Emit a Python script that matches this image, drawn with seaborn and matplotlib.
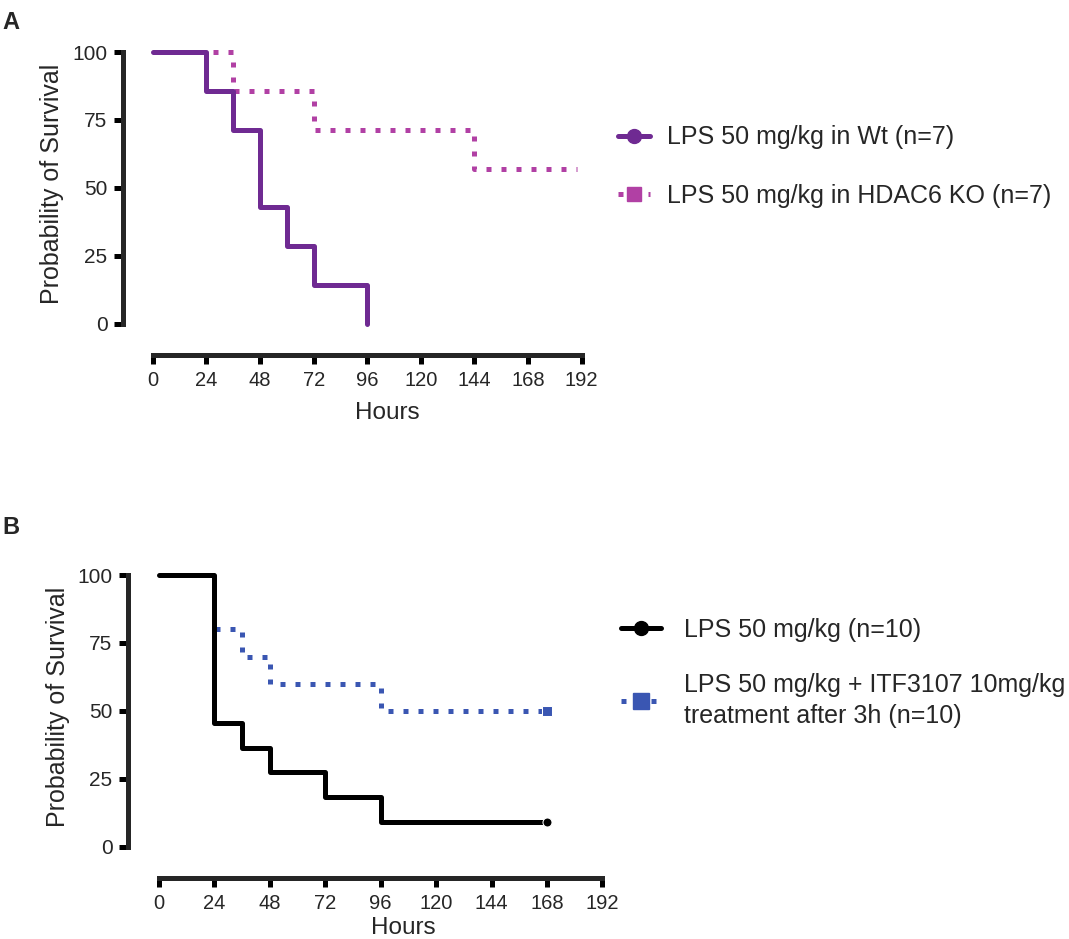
import matplotlib
matplotlib.use("Agg")
import matplotlib.pyplot as plt
import seaborn as sns
import numpy as np
import pandas as pd
from matplotlib.lines import Line2D

# ---------------- data ----------------
# Panel A
a_wt_hours = [0, 24, 36, 48, 60, 72, 96]
a_wt_surv = [100, 85.7, 71.4, 42.9, 28.6, 14.3, 0]
a_ko_hours = [0, 36, 72, 144, 190]
a_ko_surv = [100, 85.7, 71.4, 57.1, 57.1]
a_labels = ["LPS 50 mg/kg in Wt (n=7)", "LPS 50 mg/kg in HDAC6 KO (n=7)"]

# Panel B
b_lps_hours = [0, 24, 36, 48, 72, 96, 168]
b_lps_surv = [100, 45.5, 36.4, 27.3, 18.2, 9.1, 9.1]
b_itf_hours = [0, 24, 36, 48, 96, 168]
b_itf_surv = [100, 80, 70, 60, 50, 50]
b_labels = ["LPS 50 mg/kg (n=10)",
            "LPS 50 mg/kg + ITF3107 10mg/kg\ntreatment after 3h (n=10)"]

x_ticks = [0, 24, 48, 72, 96, 120, 144, 168, 192]
y_ticks = [0, 25, 50, 75, 100]
x_label = "Hours"
y_label = "Probability of Survival"

# ---------------- style ----------------
sns.set_style("ticks")
plt.rcParams["font.family"] = ["Liberation Sans", "DejaVu Sans"]

C_WT = "#6F2A92"
C_KO = "#B140A4"
C_BLUE = "#3A56B2"
C_BLACK = "#000000"
LW = 3.6
DOT = (0, (1, 2))
DOT_B = (2.0, (1, 2))

W, H = 1069, 939
fig = plt.figure(figsize=(W / 100, H / 100), dpi=100)


def px_axes(left, right, top, bottom):
    return fig.add_axes([left / W, 1 - bottom / H, (right - left) / W, (bottom - top) / H])


def style_axes(ax, xlab_x, xlab_y, ylab_x):
    ax.set_xlim(-13.4, 194)
    ax.set_ylim(-11.6, 103)
    sns.despine(ax=ax)
    for s in ["left", "bottom"]:
        ax.spines[s].set_linewidth(LW)
        ax.spines[s].set_capstyle("projecting")
    ax.spines["left"].set_bounds(0, 100)
    ax.spines["bottom"].set_bounds(0, 192)
    ax.set_xticks(x_ticks, labels=[str(v) for v in x_ticks], fontsize=14.5)
    ax.set_yticks(y_ticks, labels=[str(v) for v in y_ticks], fontsize=15)
    ax.tick_params(axis="both", length=6.2, width=LW, color="black", pad=5)
    ax.set_xlabel(x_label, fontsize=17.5)
    ax.set_ylabel(y_label, fontsize=18)
    ax.xaxis.set_label_coords(xlab_x, xlab_y)
    ax.yaxis.set_label_coords(ylab_x, 0.55)
    ax.grid(False)
    ax.set_facecolor("white")


# ---------------- Panel A ----------------
axA = px_axes(123, 586, 44, 355)
sns.lineplot(x=a_ko_hours, y=a_ko_surv, ax=axA, drawstyle="steps-post",
             estimator=None, sort=False, color=C_KO, lw=LW, linestyle=DOT,
             zorder=2)
sns.lineplot(x=a_wt_hours, y=a_wt_surv, ax=axA, drawstyle="steps-post",
             estimator=None, sort=False, color=C_WT, lw=LW, zorder=3)
style_axes(axA, 0.57, -0.15, -0.128)

hA = [Line2D([0], [0], color=C_WT, lw=LW, marker="o", markersize=10),
      Line2D([0], [0], color=C_KO, lw=LW, linestyle=DOT, marker="s",
             markersize=10)]
axA.legend(hA, a_labels, loc="center left",
           bbox_to_anchor=(618 / W, 1 - 166.5 / H), bbox_transform=fig.transFigure,
           frameon=False, fontsize=18, handlelength=1.28, handletextpad=0.68,
           labelspacing=1.38, borderpad=0, borderaxespad=0)

# ---------------- Panel B ----------------
axB = px_axes(128, 607, 567, 878)
sns.lineplot(x=b_itf_hours, y=b_itf_surv, ax=axB, drawstyle="steps-post",
             estimator=None, sort=False, color=C_BLUE, lw=LW, linestyle=DOT_B,
             marker="s", markersize=7.5, markevery=[len(b_itf_hours) - 1],
             zorder=2)
sns.lineplot(x=b_lps_hours, y=b_lps_surv, ax=axB, drawstyle="steps-post",
             estimator=None, sort=False, color=C_BLACK, lw=LW,
             marker="o", markersize=6.5, markevery=[len(b_lps_hours) - 1],
             zorder=3)
style_axes(axB, 0.574, -0.127, -0.122)

hB = [Line2D([0], [0], color=C_BLACK, lw=LW, marker="o", markersize=10),
      Line2D([0], [0], color=C_BLUE, lw=LW, linestyle=DOT, marker="s",
             markersize=11)]
legB = axB.legend(hB, b_labels, loc="upper left",
                  bbox_to_anchor=(621 / W, 1 - 618 / H), bbox_transform=fig.transFigure,
                  frameon=False, fontsize=18, handlelength=1.6, handletextpad=0.9,
                  labelspacing=1.25, borderpad=0, borderaxespad=0)
for t in legB.get_texts():
    t.set_linespacing(1.35)

# panel letters
fig.text(2 / W, 1 - 11 / H, "A", fontsize=17, fontweight="bold", va="top", ha="left")
fig.text(2 / W, 1 - 516 / H, "B", fontsize=17, fontweight="bold", va="top", ha="left")

fig.savefig("out.png", dpi=100, facecolor="white")
